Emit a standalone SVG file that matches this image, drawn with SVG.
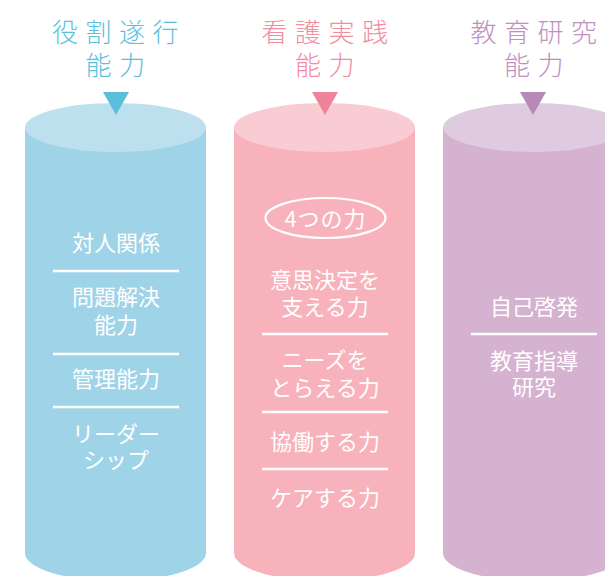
<svg xmlns="http://www.w3.org/2000/svg" width="605" height="576" viewBox="0 0 605 576">
<style>
.hd{font-family:"Noto Sans CJK JP","Noto Sans CJK SC",sans-serif;font-size:26px;font-weight:300;letter-spacing:7.5px;text-anchor:middle}
.tx{font-family:"Noto Sans CJK JP","Noto Sans CJK SC",sans-serif;font-size:22px;fill:#fff;text-anchor:middle}
.sep{stroke:#fff;stroke-width:2.5}
</style>
<rect width="605" height="576" fill="#fff"/>
<g id="col-blue">
<text class="hd" x="119" y="42" fill="#5bbfdc">役割遂行</text>
<text class="hd" x="119" y="75" fill="#5bbfdc">能力</text>
<path d="M25,127 V553 A90.5,28 0 0 0 206,553 V127 Z" fill="#9fd4e8"/>
<ellipse cx="115.5" cy="127.5" rx="90.5" ry="24.5" fill="#bde0ee"/>
<polygon points="103,92 129,92 116,115" fill="#5bbfdc"/>
<text class="tx" x="116" y="251">対人関係</text>
<line class="sep" x1="53" y1="271" x2="179" y2="271"/>
<text class="tx" x="116" y="305">問題解決</text>
<text class="tx" x="116" y="333">能力</text>
<line class="sep" x1="53" y1="354" x2="179" y2="354"/>
<text class="tx" x="116" y="387">管理能力</text>
<line class="sep" x1="53" y1="407" x2="179" y2="407"/>
<text class="tx" x="116" y="442">リーダー</text>
<text class="tx" x="116" y="468">シップ</text>
</g>
<g id="col-pink">
<text class="hd" x="328.5" y="42" fill="#f28ca0">看護実践</text>
<text class="hd" x="328.5" y="75" fill="#f28ca0">能力</text>
<path d="M234,127 V553 A90.5,28 0 0 0 415,553 V127 Z" fill="#f8b2bc"/>
<ellipse cx="324.5" cy="127.5" rx="90.5" ry="24.5" fill="#f9cbd2"/>
<polygon points="312,92 338,92 325,115" fill="#ee8499"/>
<ellipse cx="325.5" cy="218" rx="60" ry="20" fill="none" stroke="#fff" stroke-width="2.2"/>
<text class="tx" x="325.5" y="227" style="letter-spacing:1px">4つの力</text>
<text class="tx" x="325" y="288">意思決定を</text>
<text class="tx" x="325" y="315">支える力</text>
<line class="sep" x1="262" y1="334" x2="388" y2="334"/>
<text class="tx" x="325" y="368">ニーズを</text>
<text class="tx" x="325" y="396">とらえる力</text>
<line class="sep" x1="262" y1="412" x2="388" y2="412"/>
<text class="tx" x="325" y="450">協働する力</text>
<line class="sep" x1="262" y1="469" x2="388" y2="469"/>
<text class="tx" x="325" y="506">ケアする力</text>
</g>
<g id="col-purple">
<text class="hd" x="537.5" y="42" fill="#c08fbf">教育研究</text>
<text class="hd" x="537.5" y="75" fill="#c08fbf">能力</text>
<path d="M443,127 V553 A90.5,28 0 0 0 624,553 V127 Z" fill="#d4b2d0"/>
<ellipse cx="533.5" cy="127.5" rx="90.5" ry="24.5" fill="#dfcbe0"/>
<polygon points="520,92 546,92 533,115" fill="#b888b8"/>
<text class="tx" x="534" y="315">自己啓発</text>
<line class="sep" x1="471" y1="334" x2="597" y2="334"/>
<text class="tx" x="534" y="369">教育指導</text>
<text class="tx" x="534" y="395">研究</text>
</g>
<g id="connectors"></g>
</svg>
